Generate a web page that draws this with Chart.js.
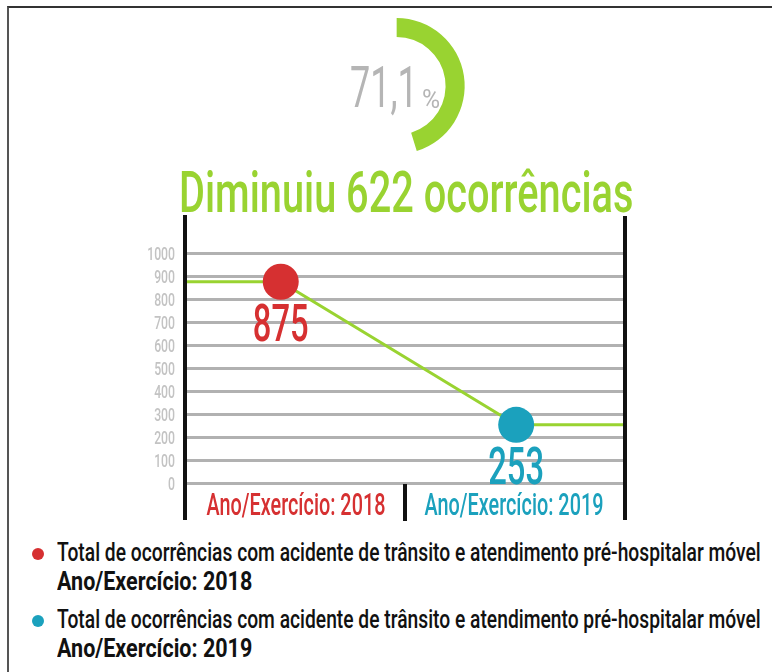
<!DOCTYPE html>
<html>
<head>
<meta charset="utf-8">
<script src="https://cdn.jsdelivr.net/npm/chart.js@4.4.1/dist/chart.umd.min.js"></script>
<style>
  html, body { margin: 0; padding: 0; background: #fff; }
  body { width: 772px; height: 672px; position: relative; overflow: hidden; font-family: Roboto, sans-serif; }
  .frame { position: absolute; left: 7px; top: 6px; width: 800px; height: 700px;
    border-top: 2px solid #333; border-left: 2px solid #555; }
  .abs { position: absolute; white-space: nowrap; line-height: 1; transform-origin: left; }
  #pct { left: 350px; top: 58px; font-size: 58px; color: #b5b5b5; transform: scaleX(0.62); }
  #pctSign { left: 422px; top: 86px; font-size: 26px; color: #b5b5b5; transform: scaleX(0.95); }
  #title { left: 179px; top: 163px; font-size: 58px; font-weight: 500; color: #99d331; transform: scaleX(0.685); }
  .item { position: absolute; left: 57px; font-size: 25px; line-height: 29px; color: #111; white-space: nowrap; }
  .item span.t, .item b { display: block; transform-origin: left; }
  .item span.t { transform: scaleX(0.77); font-weight: 500; }
  .item b { transform: scaleX(0.86); }
  .item .dot { position: absolute; left: -25px; top: 10px; width: 12px; height: 12px; border-radius: 50%; }
  #donut { position: absolute; left: 325px; top: 6px; }
  #line { position: absolute; left: 130px; top: 214px; }
</style>
</head>
<body>
<div class="frame"></div>
<canvas id="donut" width="160" height="160"></canvas>
<div id="pct" class="abs">71,1</div>
<div id="pctSign" class="abs">%</div>
<div id="title" class="abs">Diminuiu 622 ocorrências</div>
<canvas id="line" width="520" height="310"></canvas>
<div class="item" style="top:538px"><span class="dot" style="background:#d63031"></span><span class="t">Total de ocorrências com acidente de trânsito e atendimento pré-hospitalar móvel</span><b>Ano/Exercício: 2018</b></div>
<div class="item" style="top:605px"><span class="dot" style="background:#1ba1bd"></span><span class="t">Total de ocorrências com acidente de trânsito e atendimento pré-hospitalar móvel</span><b>Ano/Exercício: 2019</b></div>

<script>
const FONT = 'Roboto, sans-serif';

// data
const categories = ['Ano/Exercício: 2018', 'Ano/Exercício: 2019'];
const totals = [875, 253];
const pointX = [0.43, 1.51];          // where each year's dot sits along its half
const yTicks = [0, 100, 200, 300, 400, 500, 600, 700, 800, 900, 1000];
const reduction = [71.1, 28.9];       // percent

const GREEN = '#99d331';
const yearColors = ['#d63031', '#1ba1bd'];

// the source uses a very condensed face, so canvas text gets squeezed sideways
const drawNarrow = (ctx, text, x, y, font, color, align, squeeze) => {
  ctx.save();
  ctx.translate(x, y);
  ctx.scale(squeeze, 1);
  ctx.font = font + ' ' + FONT;
  ctx.fillStyle = color;
  ctx.textAlign = align;
  ctx.textBaseline = 'alphabetic';
  ctx.fillText(text, 0, 0);
  ctx.restore();
};

/// === DONUT === ///
const ARC_SPAN = 229; // the drawn arc only covers part of a circle
new Chart(document.getElementById('donut'), {
  type: 'doughnut',
  data: {
    datasets: [{
      data: reduction,
      backgroundColor: [GREEN, 'rgba(0,0,0,0)'],
      borderWidth: 0
    }]
  },
  options: {
    responsive: false,
    animation: false,
    rotation: 0,
    circumference: ARC_SPAN,
    cutout: '72%',
    layout: { padding: 12 },
    plugins: { legend: { display: false }, tooltip: { enabled: false } }
  }
});

/// === LINE === ///
const linePoints = [
  { x: 0, y: totals[0] },
  { x: pointX[0], y: totals[0] },
  { x: pointX[1], y: totals[1] },
  { x: 2, y: totals[1] }
];

const dividers = {
  id: 'dividers',
  afterDraw(chart) {
    const { ctx, chartArea } = chart;
    const mid = chart.scales.x.getPixelForValue(1);
    ctx.save();
    ctx.strokeStyle = '#111';
    ctx.lineWidth = 4;
    ctx.beginPath();
    ctx.moveTo(chartArea.left - 2, chartArea.top - 38);
    ctx.lineTo(chartArea.left - 2, chartArea.bottom + 37);
    ctx.moveTo(chartArea.right + 2, chartArea.top - 37);
    ctx.lineTo(chartArea.right + 2, chartArea.bottom + 37);
    ctx.moveTo(mid, chartArea.bottom + 1);
    ctx.lineTo(mid, chartArea.bottom + 38);
    ctx.stroke();
    ctx.restore();
  }
};

const axisText = {
  id: 'axisText',
  afterDraw(chart) {
    const { ctx, chartArea } = chart;
    const y = chart.scales.y;
    y.ticks.forEach(t => {
      drawNarrow(ctx, String(t.value), chartArea.left - 12, y.getPixelForValue(t.value) + 6.5, '500 18px', '#c3c3c3', 'right', 0.68);
    });
    const cat = chart.scales.years;
    categories.forEach((label, i) => {
      drawNarrow(ctx, label, cat.getPixelForTick(i), chartArea.bottom + 32, '500 31px', yearColors[i], 'center', 0.64);
    });
  }
};

const valueLabels = {
  id: 'valueLabels',
  afterDatasetsDraw(chart) {
    const pts = chart.getDatasetMeta(0).data;
    [1, 2].forEach((idx, i) => {
      const p = pts[idx];
      drawNarrow(chart.ctx, String(totals[i]), p.x, p.y + 59, '500 52px', yearColors[i], 'center', 0.63);
    });
  }
};

new Chart(document.getElementById('line'), {
  type: 'line',
  data: {
    datasets: [{
      data: linePoints,
      borderColor: GREEN,
      borderWidth: 3,
      pointRadius: [0, 18, 18, 0],
      pointBackgroundColor: ['rgba(0,0,0,0)', yearColors[0], yearColors[1], 'rgba(0,0,0,0)'],
      pointBorderWidth: 0,
      tension: 0,
      xAxisID: 'x'
    }]
  },
  options: {
    responsive: false,
    animation: false,
    layout: { padding: { top: 39, right: 27, left: 0, bottom: 0 } },
    plugins: { legend: { display: false }, tooltip: { enabled: false } },
    scales: {
      x: { type: 'linear', display: false, min: 0, max: 2 },
      years: {
        type: 'category',
        position: 'bottom',
        labels: categories,
        offset: true,
        grid: { display: false },
        border: { display: false },
        ticks: { display: false },
        afterFit: scale => { scale.height = 41; }
      },
      y: {
        min: 0,
        max: 1000,
        afterBuildTicks: scale => { scale.ticks = yTicks.map(v => ({ value: v })); },
        grid: { color: '#b1b1b1', lineWidth: 3, drawTicks: false },
        border: { display: false },
        ticks: { display: false },
        afterFit: scale => { scale.width = 57; }
      }
    }
  },
  plugins: [dividers, axisText, valueLabels]
});
</script>
</body>
</html>
